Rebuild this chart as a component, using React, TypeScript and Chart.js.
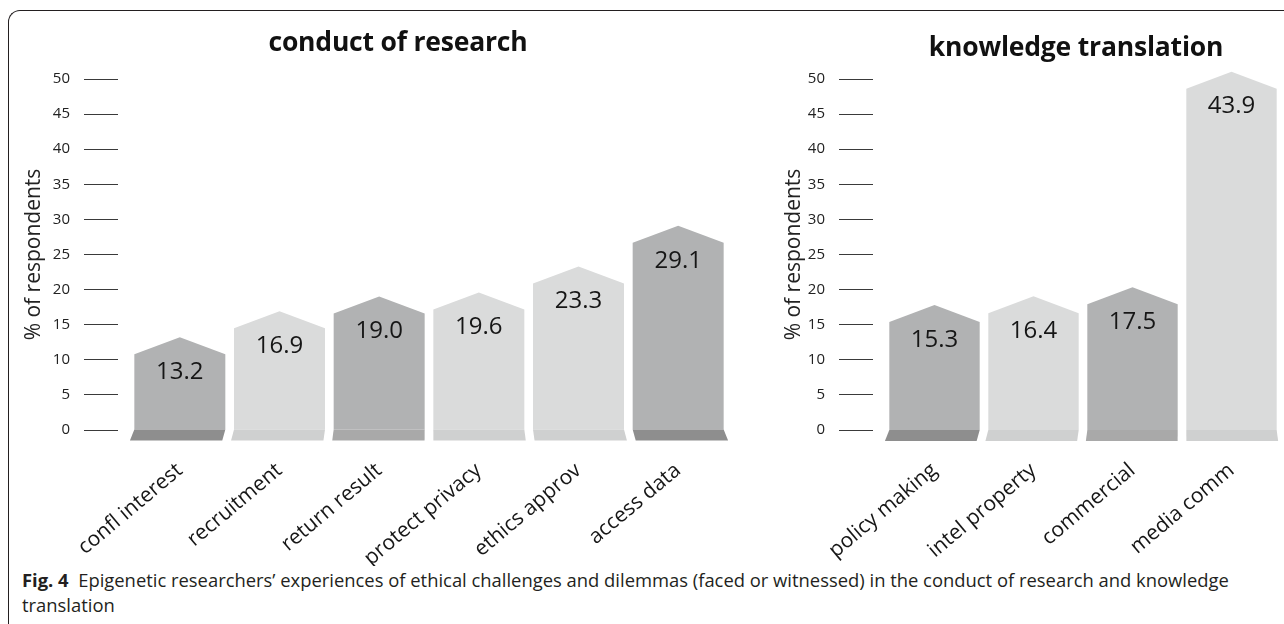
import React, { useEffect, useRef } from 'react';
import { Chart, registerables } from 'chart.js';

Chart.register(...registerables);

// ---------- data ----------
const researchCategories = ['confl interest', 'recruitment', 'return result', 'protect privacy', 'ethics approv', 'access data'];
const researchValues = [13.2, 16.9, 19.0, 19.6, 23.3, 29.1];

const translationCategories = ['policy making', 'intel property', 'commercial', 'media comm'];
const translationValues = [15.3, 16.4, 17.5, 43.9];

const yTickMin = 0;
const yTickMax = 50;
const yTickStep = 5;

const researchTitle = 'conduct of research';
const translationTitle = 'knowledge translation';
const yAxisTitle = '% of respondents';

// ---------- styles ----------
const FONT = "'Open Sans', 'Noto Sans', sans-serif";
const DARK = '#b1b2b3';
const LIGHT = '#dadbdb';
const BASE_DARK = '#8e8e8e';
const BASE_MID = '#a9a9a9';
const BASE_LIGHT = '#cfd0d0';

const researchBody = [DARK, LIGHT, DARK, LIGHT, LIGHT, DARK];
const researchBase = [BASE_DARK, BASE_LIGHT, BASE_MID, BASE_LIGHT, BASE_LIGHT, BASE_DARK];
const translationBody = [DARK, LIGHT, DARK, LIGHT];
const translationBase = [BASE_DARK, BASE_LIGHT, BASE_MID, BASE_LIGHT];

const CANVAS_H = 566;

const houseBars = {
  id: 'houseBars',
  afterDatasetsDraw(chart: any, _args: any, opts: any) {
    const meta = chart.getDatasetMeta(0);
    const ctx = chart.ctx;
    const ca = chart.chartArea;
    const vx = ca.left + (ca.right - ca.left) * opts.vanish;
    const values = chart.data.datasets[0].data;
    ctx.save();
    meta.data.forEach((bar: any, i: number) => {
      const { x, y, base, width } = bar.getProps(['x', 'y', 'base', 'width'], true);
      const l = x - width / 2;
      const r = x + width / 2;
      const roof = opts.roof;
      // body with roof
      ctx.fillStyle = opts.bodyColors[i];
      ctx.beginPath();
      ctx.moveTo(l, base);
      ctx.lineTo(l, y + roof);
      ctx.lineTo(x, y);
      ctx.lineTo(r, y + roof);
      ctx.lineTo(r, base);
      ctx.closePath();
      ctx.fill();
      // perspective foot
      const bh = opts.baseHeight;
      ctx.fillStyle = opts.baseColors[i];
      ctx.beginPath();
      ctx.moveTo(l, base);
      ctx.lineTo(r, base);
      ctx.lineTo(r + (r - vx) * opts.persp, base + bh);
      ctx.lineTo(l + (l - vx) * opts.persp, base + bh);
      ctx.closePath();
      ctx.fill();
      // value label
      ctx.fillStyle = '#161616';
      ctx.font = `24px ${FONT}`;
      ctx.textAlign = 'center';
      ctx.textBaseline = 'middle';
      ctx.fillText(Number(values[i]).toFixed(1), x, y + opts.labelOffset);
    });
    ctx.restore();
  },
};

function makeConfig(
  labels: string[],
  values: number[],
  bodyColors: string[],
  baseColors: string[],
  axisWidth: number,
  padLeft: number,
  padRight: number,
  vanish: number,
  barMax: number | null
) {
  const yCommon = {
    min: yTickMin,
    max: yTickMax,
    afterFit(scale: any) {
      scale.width = axisWidth;
    },
    ticks: {
      stepSize: yTickStep,
      padding: 14,
      color: '#222',
      font: { family: FONT, size: 15 },
    },
    grid: {
      drawOnChartArea: false,
      drawTicks: true,
      tickLength: 46,
      tickColor: '#3a3a3a',
      tickWidth: 1,
      tickBorderDash: [34, 200],
    },
    border: { display: false },
    title: {
      display: true,
      text: yAxisTitle,
      color: '#222',
      font: { family: FONT, size: 21 },
      padding: { top: 3, bottom: 3 },
    },
  };
  const scales: any = {
    x: {
      offset: true,
      afterFit(scale: any) {
        scale.height = CANVAS_H - 430;
      },
      grid: { display: false },
      border: { display: false },
      ticks: {
        autoSkip: false,
        maxRotation: 40,
        minRotation: 40,
        padding: 20,
        color: '#161616',
        font: { family: FONT, size: 21 },
      },
    },
    y: yCommon,
  };
  const dataset: any = {
    data: values,
    backgroundColor: 'rgba(0,0,0,0)',
    borderWidth: 0,
    barPercentage: 0.913,
    categoryPercentage: 1,
  };
  if (barMax !== null) {
    dataset.yAxisID = 'yBars';
    scales.yBars = { display: false, min: 0, max: barMax };
  }
  return {
    type: 'bar' as const,
    data: { labels, datasets: [dataset] },
    options: {
      animation: false,
      responsive: false,
      maintainAspectRatio: false,
      layout: { padding: { left: padLeft, right: padRight, top: 79, bottom: 0 } },
      plugins: {
        legend: { display: false },
        tooltip: { enabled: false },
        houseBars: {
          bodyColors,
          baseColors,
          roof: 17,
          baseHeight: 11,
          persp: 0.015,
          vanish,
          labelOffset: 35,
        },
      },
      scales,
    },
    plugins: [houseBars],
  };
}

function BarPanel(props: {
  left: number;
  width: number;
  labels: string[];
  values: number[];
  bodyColors: string[];
  baseColors: string[];
  axisWidth: number;
  padLeft: number;
  padRight: number;
  vanish: number;
  barMax: number | null;
}) {
  const ref = useRef<HTMLCanvasElement | null>(null);
  useEffect(() => {
    if (!ref.current) return;
    const chart = new Chart(
      ref.current,
      makeConfig(
        props.labels,
        props.values,
        props.bodyColors,
        props.baseColors,
        props.axisWidth,
        props.padLeft,
        props.padRight,
        props.vanish,
        props.barMax
      ) as any
    );
    return () => chart.destroy();
  }, []);
  return (
    <canvas
      ref={ref}
      width={props.width}
      height={CANVAS_H}
      style={{ position: 'absolute', left: props.left, top: 0, width: props.width, height: CANVAS_H, display: 'block' }}
    />
  );
}

export default function App() {
  return (
    <div
      style={{
        position: 'fixed',
        left: 0,
        top: 0,
        width: 1284,
        height: 624,
        background: '#fff',
        overflow: 'hidden',
        fontFamily: FONT,
        color: '#231f20',
      }}
    >
      <div
        style={{
          position: 'absolute',
          left: 8,
          top: 10,
          width: 1300,
          height: 640,
          borderTop: '1px solid #231f20',
          borderLeft: '1px solid #231f20',
          borderTopLeftRadius: 12,
          boxSizing: 'border-box',
        }}
      />
      <BarPanel
        left={0}
        width={740}
        labels={researchCategories}
        values={researchValues}
        bodyColors={researchBody}
        baseColors={researchBase}
        axisWidth={112}
        padLeft={18}
        padRight={12}
        vanish={0.5}
        barMax={null}
      />
      <BarPanel
        left={760}
        width={524}
        labels={translationCategories}
        values={translationValues}
        bodyColors={translationBody}
        baseColors={translationBase}
        axisWidth={107}
        padLeft={18}
        padRight={3}
        vanish={0.75}
        barMax={43}
      />
      <div
        style={{
          position: 'absolute',
          left: 198,
          width: 400,
          top: 25,
          textAlign: 'center',
          fontWeight: 700,
          fontSize: 26.5,
          lineHeight: '32px',
          color: '#111',
          letterSpacing: '-0.2px',
        }}
      >
        {researchTitle}
      </div>
      <div
        style={{
          position: 'absolute',
          left: 876,
          width: 400,
          top: 30,
          textAlign: 'center',
          fontWeight: 700,
          fontSize: 26.5,
          lineHeight: '32px',
          color: '#111',
          letterSpacing: '-0.2px',
        }}
      >
        {translationTitle}
      </div>
      <div
        style={{
          position: 'absolute',
          left: 22,
          top: 567,
          width: 1260,
          fontSize: 18.4,
          lineHeight: '25px',
          color: '#231f20',
          whiteSpace: 'nowrap',
        }}
      >
        <b>Fig. 4</b>&nbsp; Epigenetic researchers’ experiences of ethical challenges and dilemmas (faced or witnessed) in the conduct of research and knowledge
        <br />
        translation
      </div>
    </div>
  );
}
